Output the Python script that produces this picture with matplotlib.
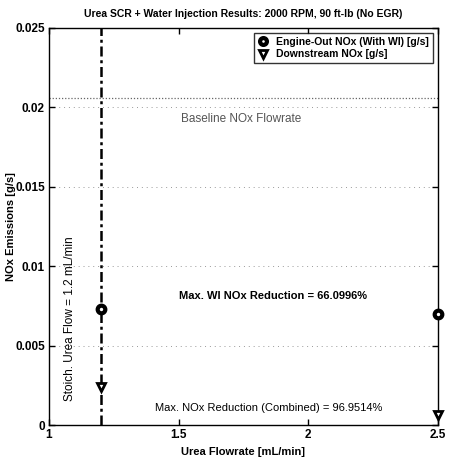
import matplotlib
matplotlib.use("Agg")
import matplotlib.pyplot as plt

plt.rcParams['font.family'] = ['Liberation Sans', 'DejaVu Sans']

# Urea flowrate [mL/min] and NOx results
urea_flow = [1.2, 2.5]
engine_out_nox = [0.0073, 0.006983]
downstream_nox = [0.0024, 0.000628]
baseline_nox = 0.0206
stoich_flow = 1.2

x_ticks = [1, 1.5, 2, 2.5]
y_ticks = [0, 0.005, 0.01, 0.015, 0.02, 0.025]

fig = plt.figure(figsize=(4.5, 4.59), dpi=100)
ax = fig.add_axes([0.109, 0.074, 0.864, 0.865])

# horizontal grid
for yv in y_ticks[1:-1]:
    ax.axhline(yv, color='#999999', linestyle=(0, (1, 4)), linewidth=0.7, zorder=0)

# baseline NOx flowrate
ax.axhline(baseline_nox, color='#666666', linestyle=(0, (1, 1.5)), linewidth=0.9, zorder=1)

# stoichiometric urea flow
ax.axvline(stoich_flow, color='black', linestyle=(0, (4, 1.5, 1.2, 1.5)),
           linewidth=1.8, zorder=2)

ax.plot(urea_flow, engine_out_nox, linestyle='none', marker='o', markersize=5.5,
        markerfacecolor='white', markeredgecolor='black', markeredgewidth=3.0,
        label='Engine-Out NOx (With WI) [g/s]', zorder=5, clip_on=False)
ax.plot(urea_flow, downstream_nox, linestyle='none', marker='v', markersize=6,
        markerfacecolor='white', markeredgecolor='black', markeredgewidth=2.0,
        label='Downstream NOx [g/s]', zorder=5, clip_on=False)

ax.set_xlim(1, 2.5)
ax.set_ylim(0, 0.025)
ax.set_xticks(x_ticks)
ax.set_xticklabels(['1', '1.5', '2', '2.5'])
ax.set_yticks(y_ticks)
ax.set_yticklabels(['0', '0.005', '0.01', '0.015', '0.02', '0.025'])
ax.tick_params(direction='in', top=True, right=True, length=4, width=1,
               labelsize=8.5, pad=3)
for lab in ax.get_xticklabels() + ax.get_yticklabels():
    lab.set_fontweight('bold')
for sp in ax.spines.values():
    sp.set_linewidth(1.0)

ax.set_xlabel('Urea Flowrate [mL/min]', fontsize=8, fontweight='bold', labelpad=4)
ax.set_ylabel('NOx Emissions [g/s]', fontsize=8, fontweight='bold')
ax.yaxis.set_label_coords(-0.085, 0.5)
ax.set_title('Urea SCR + Water Injection Results: 2000 RPM, 90 ft-lb (No EGR)',
             fontsize=7.5, fontweight='bold', pad=8)

ax.text(1.74, 0.0193, 'Baseline NOx Flowrate', fontsize=8.5, color='#555555',
        ha='center', va='center')
ax.text(1.865, 0.0081, 'Max. WI NOx Reduction = 66.0996%', fontsize=8,
        fontweight='bold', ha='center', va='center')
ax.text(1.846, 0.0011, 'Max. NOx Reduction (Combined) = 96.9514%', fontsize=8,
        ha='center', va='center')
ax.text(1.081, 0.0067, 'Stoich. Urea Flow = 1.2 mL/min', fontsize=8.5,
        rotation=90, ha='center', va='center')

leg = ax.legend(loc='upper right', fontsize=7.5, frameon=True, fancybox=False,
                edgecolor='black', borderpad=0.35, handletextpad=0.8,
                labelspacing=0.25, borderaxespad=0.5, handlelength=1.0,
                markerscale=0.9)
leg.get_frame().set_linewidth(1.0)
for t in leg.get_texts():
    t.set_fontweight('bold')

fig.savefig('out.png', dpi=100)
